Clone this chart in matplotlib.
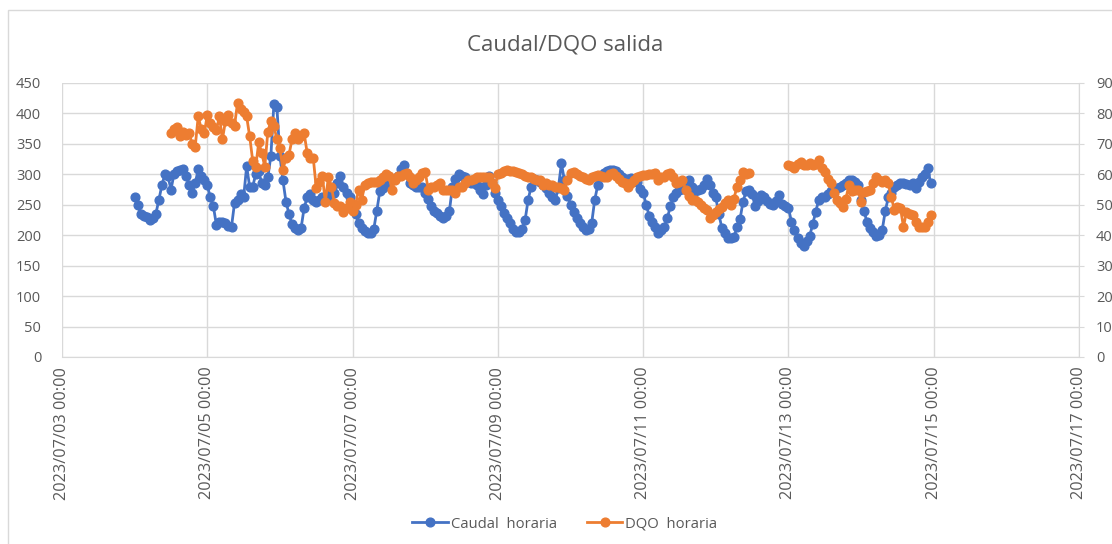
import numpy as np
import pandas as pd
import matplotlib
matplotlib.use("Agg")
import matplotlib.pyplot as plt
import matplotlib.dates as mdates
from matplotlib.patches import Rectangle

plt.rcParams['font.family'] = ['Open Sans', 'DejaVu Sans']

title = "Caudal/DQO salida"
label_caudal = "Caudal  horaria"
label_dqo = "DQO  horaria"

# hourly values, 2023/07/04 00:00 .. 2023/07/14 23:00
caudal = [
    # 07/04
    262, 250, 235, 232, 230, 225, 228, 235, 258, 282, 300, 297, 275, 300, 305, 307, 308, 297, 283, 270, 285, 308, 297, 290,
    # 07/05
    282, 262, 248, 217, 222, 222, 220, 215, 214, 253, 258, 268, 262, 313, 280, 280, 300, 305, 285, 283, 295, 330, 415, 410,
    # 07/06
    330, 290, 255, 235, 218, 212, 208, 212, 245, 262, 268, 258, 255, 258, 262, 262, 262, 268, 270, 285, 297, 280, 270, 263,
    # 07/07
    250, 235, 220, 212, 207, 203, 203, 210, 240, 272, 278, 283, 287, 290, 293, 298, 308, 315, 300, 285, 282, 280, 280, 280,
    # 07/08
    270, 260, 248, 240, 236, 232, 229, 232, 240, 280, 293, 300, 298, 295, 290, 285, 285, 282, 275, 268, 282, 298, 285, 270,
    # 07/09
    258, 248, 237, 228, 220, 210, 206, 205, 210, 225, 258, 280, 292, 290, 288, 283, 277, 270, 262, 258, 278, 318, 290, 265,
    # 07/10
    250, 238, 228, 220, 213, 209, 210, 220, 258, 282, 298, 303, 305, 307, 307, 305, 300, 296, 293, 292, 294, 292, 288, 276,
    # 07/11
    270, 250, 232, 222, 213, 204, 208, 214, 228, 248, 262, 270, 275, 276, 285, 290, 280, 272, 274, 276, 283, 292, 282, 270,
    # 07/12
    262, 235, 212, 204, 196, 196, 197, 213, 226, 255, 272, 275, 267, 248, 257, 266, 262, 256, 252, 250, 256, 266, 252, 248,
    # 07/13
    245, 222, 209, 196, 188, 182, 190, 198, 218, 238, 258, 262, 263, 267, 272, 276, 278, 280, 283, 286, 290, 291, 288, 283,
    # 07/14
    258, 239, 221, 212, 205, 199, 200, 209, 240, 262, 270, 280, 283, 285, 286, 284, 283, 285, 278, 288, 295, 300, 311, 285,
]

nan = np.nan
dqo = [
    # 07/04
    nan, nan, nan, nan, nan, nan, nan, nan, nan, nan, nan, nan,
    73.5, 75, 75.5, 72.5, 74, 73, 73.5, 70, 69, 79, 75, 73.5,
    # 07/05
    79.5, 77, 75.5, 74.5, 79, 71.5, 77.5, 79.5, 77, 76, 83.5, 81.5, 80.5, 79, 72.5, 64.5, 62.5, 70.5, 67, 62.5, 74, 77.5, 76, 71.5,
    # 07/06
    68.5, 61.5, 65.5, 66.5, 71.5, 73.5, 71.5, 72.5, 73.5, 67, 65.5, 65.5, 55.5, 57.5, 59.5, 51, 59, 56, 50.5, 49.5, 49.5, 47.5, 49, 51,
    # 07/07
    47.8, 50, 55, 51.5, 56.5, 57, 57.5, 57.5, 57.5, 58, 59, 60, 59.5, 55, 58, 59.5, 59.5, 60, 60.5, 59, 57.3, 58, 59, 60.5,
    # 07/08
    60.8, 55, 56, 56, 56.5, 57.3, 55, 55, 55, 55, 54, 56, 56, 57, 58, 58.3, 58.5, 59, 59.2, 59, 59.2, 59.2, 57, 55.6,
    # 07/09
    60, 60.5, 61, 61.5, 61, 61, 60.8, 60.5, 60, 59.5, 59.2, 59, 58.5, 58.3, 58, 56.6, 57, 56.6, 56.6, 56, 56, 55.5, 55, 58,
    # 07/10
    60.5, 60.8, 60, 59.5, 59.2, 58.5, 58.3, 59, 59.5, 59.9, 59.5, 59.2, 59.2, 60, 60.5, 59.5, 58.5, 57.6, 57, 56, 57, 58.3, 59.2, 59.5,
    # 07/11
    59.9, 59.9, 60, 60.2, 60.5, 58.3, 59, 59.2, 60, 60.5, 59, 57.3, 57.5, 58.3, 55, 53, 51.7, 51.5, 51, 50, 49, 48.4, 45.8, 46.5,
    # 07/12
    47.5, 48.5, 49.4, 50.5, 51.7, 50, 52, 56, 58, 60.8, 60, 60.5, nan, nan, nan, nan, nan, nan, nan, nan, nan, nan, nan, nan,
    # 07/13
    63.2, 62.8, 62.2, 63.5, 64.1, 63, 63.2, 63.8, 63.2, 63.5, 64.8, 62, 60.8, 58.5, 57.3, 54, 51.7, 50.5, 49.4, 52, 56.6, 54.5, 55, 55,
    # 07/14
    51, 54.3, 54.5, 55, 57, 59.2, 58, 57.6, 58.3, 57, 52.4, 48.4, 49.4, 49, 42.8, 47.5, 47, 46.8, 44.5, 42.8, 42.8, 42.8, 44.2, 46.8,
]

times = pd.date_range("2023-07-04 00:00", periods=len(caudal), freq="h")
x_ticks = pd.date_range("2023-07-03", "2023-07-17", freq="2D")
left_ticks = list(range(0, 451, 50))
right_ticks = list(range(0, 91, 10))

blue = "#4472C4"
orange = "#ED7D31"
grey_txt = "#595959"
grid_c = "#D9D9D9"

fig = plt.figure(figsize=(11.12, 5.44), dpi=100)
fig.patches.append(Rectangle((8 / 1112, -0.1), 1.2, 1.1 - 10 / 544, transform=fig.transFigure,
                             fill=False, edgecolor=grid_c, linewidth=1.0))
ax = fig.add_axes([62 / 1112, 1 - 357 / 544, (1079 - 62) / 1112, (357 - 83) / 544])
ax2 = ax.twinx()

ax.plot(times, caudal, color=blue, lw=2.0, marker="o", ms=6.3, label=label_caudal, zorder=3)
ax2.plot(times, dqo, color=orange, lw=2.0, marker="o", ms=6.3, label=label_dqo, zorder=3)

ax.set_xlim(x_ticks[0], x_ticks[-1])
ax.set_ylim(0, 450)
ax2.set_ylim(0, 90)
ax.set_yticks(left_ticks)
ax2.set_yticks(right_ticks)
ax.set_xticks(x_ticks)
ax.xaxis.set_major_formatter(mdates.DateFormatter("%Y/%m/%d %H:%M"))

ax.grid(True, color=grid_c, lw=1.0)
ax.set_axisbelow(True)

for a in (ax, ax2):
    for s in a.spines.values():
        s.set_visible(False)
ax.spines["bottom"].set_visible(True)
ax.spines["bottom"].set_color(grid_c)
ax2.spines["right"].set_visible(True)
ax2.spines["right"].set_color(grid_c)

ax.tick_params(axis="y", length=0, pad=15, labelsize=10.5, labelcolor=grey_txt)
ax.tick_params(axis="x", length=0, pad=7, labelsize=11.7, labelcolor=grey_txt, labelrotation=90)
ax2.tick_params(axis="y", length=3.6, color=grid_c, pad=8.6, labelsize=10.5, labelcolor=grey_txt)

fig.text(0.508, 1 - 45 / 544, title, ha="center", va="center", fontsize=16, color=grey_txt)

h1, l1 = ax.get_legend_handles_labels()
h2, l2 = ax2.get_legend_handles_labels()
fig.legend(h1 + h2, l1 + l2, loc="center", bbox_to_anchor=(0.508, 1 - 524 / 544), ncol=2,
           frameon=False, fontsize=10.7, labelcolor=grey_txt, handlelength=2.4, handletextpad=0.2,
           columnspacing=2.0)

fig.savefig("out.png", dpi=100)
